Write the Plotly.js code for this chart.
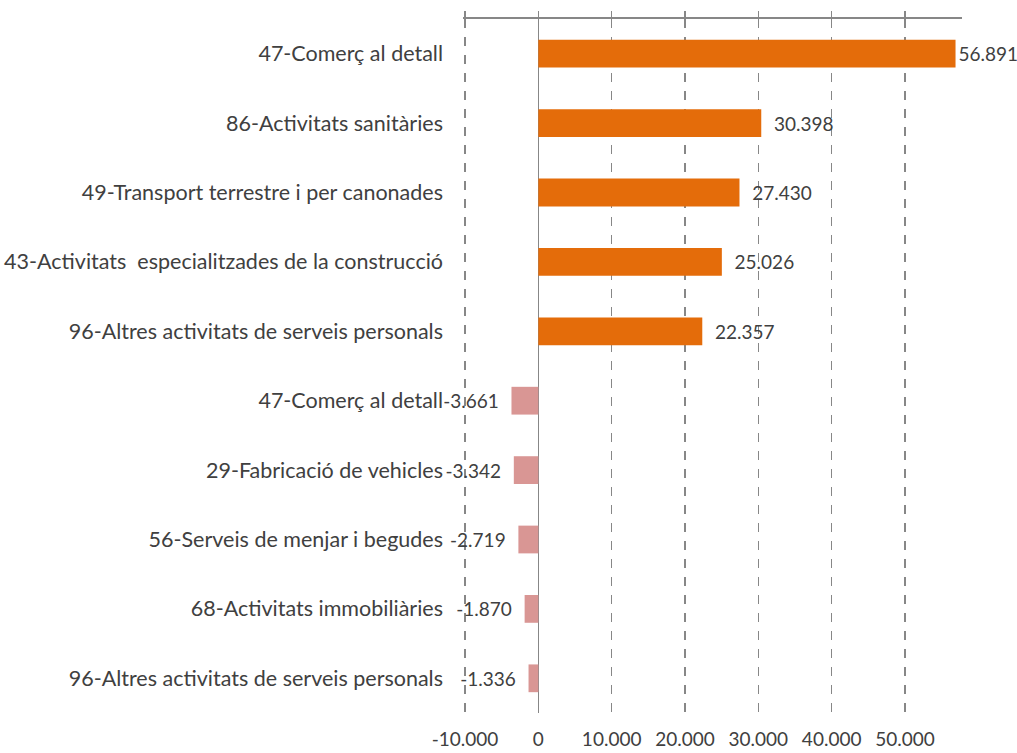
<!DOCTYPE html>
<html>
<head>
<meta charset="utf-8">
<script src="https://cdn.plot.ly/plotly-3.0.1.min.js"></script>
<style>html,body{margin:0;padding:0;background:#fff;}#chart{width:1017px;height:753px;}</style>
</head>
<body>
<div id="chart"></div>
<script>
// Data
const upCategories = [
  "47-Comerç al detall",
  "86-Activitats sanitàries",
  "49-Transport terrestre i per canonades",
  "43-Activitats\u00a0 especialitzades de la construcció",
  "96-Altres activitats de serveis personals"
];
const upValues = [56891, 30398, 27430, 25026, 22357];

const downCategories = [
  "47-Comerç al detall",
  "29-Fabricació de vehicles",
  "56-Serveis de menjar i begudes",
  "68-Activitats immobiliàries",
  "96-Altres activitats de serveis personals"
];
const downValues = [-3661, -3342, -2719, -1870, -1336];

const xTickValues = [-10000, 0, 10000, 20000, 30000, 40000, 50000];

// Catalan number format with hyphen minus: 56891 -> "56.891"
function fmt(v) {
  const s = Math.abs(Math.round(v)).toString().replace(/\B(?=(\d{3})+(?!\d))/g, ".");
  return (v < 0 ? "-" : "") + s;
}

const allCategories = upCategories.concat(downCategories);
const upPos = upCategories.map((c, i) => i);
const downPos = downCategories.map((c, i) => i + upCategories.length);

const FONT = "Lato, 'Open Sans', sans-serif";
const TXT = "#404040";
const GRID = "#878787";

const pad = "\u00a0\u00a0";
const traces = [
  {
    type: "bar", orientation: "h",
    x: upValues, y: upPos,
    marker: {color: "#E46C0A"},
    text: upValues.map((v, i) => (i === 0 ? "" : pad) + fmt(v)),
    textposition: "outside",
    textfont: {family: FONT, size: 19, color: TXT},
    cliponaxis: false,
    hoverinfo: "skip",
    xaxis: "x", yaxis: "y"
  },
  {
    type: "bar", orientation: "h",
    x: downValues, y: downPos,
    marker: {color: "#D99694"},
    text: downValues.map(v => fmt(v) + pad),
    textposition: "outside",
    textfont: {family: FONT, size: 19, color: TXT},
    cliponaxis: false,
    hoverinfo: "skip",
    xaxis: "x", yaxis: "y"
  }
];

const xRange = [-10272, 57773];

const layout = {
  width: 1017, height: 753,
  margin: {l: 463, r: 55, t: 19, b: 40, pad: 0},
  paper_bgcolor: "#ffffff", plot_bgcolor: "#ffffff",
  showlegend: false,
  barmode: "overlay",
  bargap: 0.6,
  font: {family: FONT, size: 18, color: TXT},
  xaxis: {
    range: xRange, side: "bottom",
    tickvals: xTickValues, ticktext: xTickValues.map(fmt),
    showline: false, ticks: "",
    ticklabelstandoff: 13,
    showgrid: true, gridcolor: GRID, griddash: "dash", gridwidth: 1.3,
    zeroline: true, zerolinecolor: GRID, zerolinewidth: 1.6,
    tickfont: {family: FONT, size: 19, color: TXT},
    fixedrange: true
  },
  xaxis2: {
    range: xRange, overlaying: "x", side: "top",
    tickvals: xTickValues, showticklabels: false,
    showline: true, linecolor: GRID, linewidth: 1.6,
    ticks: "outside", ticklen: 6, tickcolor: GRID, tickwidth: 1.6,
    showgrid: false, zeroline: false
  },
  xaxis3: {
    range: xRange, overlaying: "x", side: "top",
    tickvals: xTickValues, showticklabels: false,
    showline: false,
    ticks: "inside", ticklen: 6, tickcolor: GRID, tickwidth: 1.6,
    showgrid: false, zeroline: false
  },
  yaxis: {
    range: [allCategories.length - 0.5, -0.5],
    tickvals: allCategories.map((c, i) => i),
    ticktext: allCategories,
    ticks: "", showline: false, showgrid: false, zeroline: false,
    ticklabelstandoff: 19,
    tickfont: {family: FONT, size: 21.5, color: TXT},
    fixedrange: true
  }
};

// invisible traces so the top axes are drawn
traces.push({type: "scatter", x: [0], y: [0], xaxis: "x2", yaxis: "y", mode: "markers", marker: {opacity: 0}, hoverinfo: "skip"});
traces.push({type: "scatter", x: [0], y: [0], xaxis: "x3", yaxis: "y", mode: "markers", marker: {opacity: 0}, hoverinfo: "skip"});

Plotly.newPlot("chart", traces, layout, {displayModeBar: false, staticPlot: true});
</script>
</body>
</html>
